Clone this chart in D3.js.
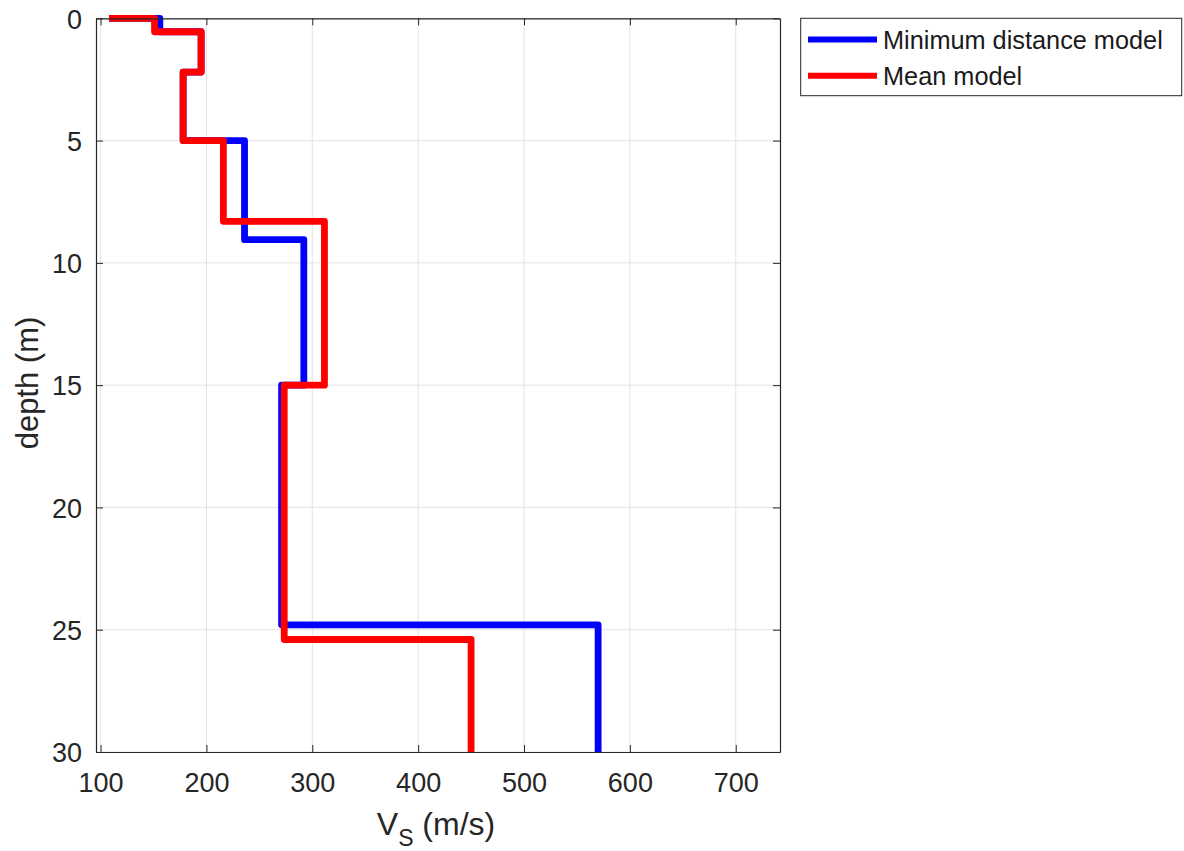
<!DOCTYPE html>
<html>
<head>
<meta charset="utf-8">
<script src="https://cdn.jsdelivr.net/npm/d3@7"></script>
<style>
  html, body { margin: 0; padding: 0; background: #fff; }
  svg { display: block; font-family: "Liberation Sans", Arial, Helvetica, sans-serif; }
</style>
</head>
<body>
<svg id="chart" width="1184" height="851"></svg>
<script>
// Layer boundaries (depth, m) and shear-wave velocity per layer (m/s).
// The first layer has zero thickness and marks the surface value.
const minDistDepth = [0, 0, 0.55, 2.2, 5.0, 9.05, 15.0, 24.8, 30];
const minDistVs    = [108, 156, 195, 178, 236, 292, 271, 570];
const meanDepth    = [0, 0, 0.55, 2.2, 5.0, 8.3, 15.0, 25.4, 30];
const meanVs       = [108, 151, 195, 178, 216, 311.5, 273.5, 450];

const xTicks = [100, 200, 300, 400, 500, 600, 700];
const yTicks = [0, 5, 10, 15, 20, 25, 30];

const seriesNames  = ["Minimum distance model", "Mean model"];
const seriesColors = ["#0000ff", "#ff0000"];

const svg = d3.select("#chart");
const plotL = 96, plotT = 18.3, plotR = 780, plotB = 752;

const x = d3.scaleLinear().domain([95.7, 741.8]).range([plotL, plotR]);
const y = d3.scaleLinear().domain([0, 30]).range([plotT, plotB]);

// grid
const grid = svg.append("g");
grid.selectAll(".gx").data(xTicks).join("line")
  .attr("x1", d => x(d)).attr("x2", d => x(d))
  .attr("y1", plotT).attr("y2", plotB)
  .attr("stroke", "#e3e3e3").attr("stroke-width", 1);
grid.selectAll(".gy").data(yTicks).join("line")
  .attr("x1", plotL).attr("x2", plotR)
  .attr("y1", d => y(d)).attr("y2", d => y(d))
  .attr("stroke", "#e3e3e3").attr("stroke-width", 1);

// staircase profile: each layer is a vertical segment at its velocity
function profile(depths, vs) {
  const pts = [];
  vs.forEach((v, i) => {
    pts.push([v, depths[i]]);
    pts.push([v, depths[i + 1]]);
  });
  return pts;
}
const line = d3.line().x(d => x(d[0])).y(d => y(d[1]));

const profiles = [profile(minDistDepth, minDistVs), profile(meanDepth, meanVs)];
svg.append("g").selectAll("path").data(profiles).join("path")
  .attr("d", line)
  .attr("fill", "none")
  .attr("stroke", (d, i) => seriesColors[i])
  .attr("stroke-width", 6.8)
  .attr("stroke-linejoin", "round")
  .attr("stroke-linecap", "butt");

// axes (box with inward ticks on all sides)
const axisColor = "#262626";
const tickLen = 7;
const axisG = svg.append("g");

const bottomAxis = d3.axisBottom(x).tickValues(xTicks).tickSizeInner(-tickLen).tickSizeOuter(0);
const gb = axisG.append("g").attr("transform", `translate(0,${plotB})`).call(bottomAxis);
const topAxis = d3.axisTop(x).tickValues(xTicks).tickSizeInner(-tickLen).tickSizeOuter(0).tickFormat("");
const gt = axisG.append("g").attr("transform", `translate(0,${plotT})`).call(topAxis);
const leftAxis = d3.axisLeft(y).tickValues(yTicks).tickSizeInner(-tickLen).tickSizeOuter(0);
const gl = axisG.append("g").attr("transform", `translate(${plotL},0)`).call(leftAxis);
const rightAxis = d3.axisRight(y).tickValues(yTicks).tickSizeInner(-tickLen).tickSizeOuter(0).tickFormat("");
const gr = axisG.append("g").attr("transform", `translate(${plotR},0)`).call(rightAxis);

[gb, gt, gl, gr].forEach(g => {
  g.select(".domain").attr("stroke", axisColor).attr("stroke-width", 1.2);
  g.selectAll(".tick line").attr("stroke", axisColor).attr("stroke-width", 1);
  g.selectAll(".tick text").attr("fill", "#262626").style("font-size", "27px")
    .style("font-family", "'Liberation Sans', Arial, sans-serif");
});
gb.selectAll(".tick text").attr("dy", null).attr("y", 40);
gl.selectAll(".tick text").attr("x", -14).attr("dy", "0.36em");

// axis labels
const xl = svg.append("text")
  .attr("x", 436).attr("y", 835)
  .attr("text-anchor", "middle")
  .attr("fill", "#262626")
  .style("font-size", "32px");
xl.append("tspan").text("V");
xl.append("tspan").attr("dy", 11).style("font-size", "23px").text("S");
xl.append("tspan").attr("dy", -11).text(" (m/s)");

svg.append("text")
  .attr("transform", "translate(38,383) rotate(-90)")
  .attr("text-anchor", "middle")
  .attr("fill", "#262626")
  .style("font-size", "31px")
  .text("depth (m)");

// legend
const lg = svg.append("g");
lg.append("rect")
  .attr("x", 800.7).attr("y", 18.3).attr("width", 381).attr("height", 77.4)
  .attr("fill", "#fff").attr("stroke", axisColor).attr("stroke-width", 1);
const rowsY = [39.5, 75.7];
seriesNames.forEach((name, i) => {
  lg.append("line")
    .attr("x1", 808).attr("x2", 877)
    .attr("y1", rowsY[i]).attr("y2", rowsY[i])
    .attr("stroke", seriesColors[i]).attr("stroke-width", 6);
  lg.append("text")
    .attr("x", 883).attr("y", rowsY[i] + 9)
    .attr("fill", "#1a1a1a")
    .style("font-size", "25.3px")
    .text(name);
});
</script>
</body>
</html>
